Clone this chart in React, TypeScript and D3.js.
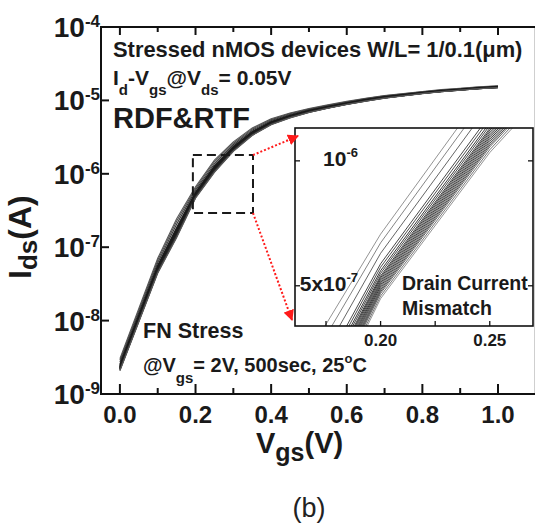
import React, { useRef, useEffect } from 'react';
import * as d3 from 'd3';

// Vgs sample points (V)
const vgs = [0, 0.05, 0.1, 0.15, 0.2, 0.25, 0.3, 0.35, 0.4, 0.45, 0.5, 0.55, 0.6, 0.65, 0.7, 0.75, 0.8, 0.85, 0.9, 0.95, 1.0];
// log10(Ids) of the median device
const baseLogId = [-8.64, -7.97, -7.3, -6.8, -6.29, -5.935, -5.66, -5.45, -5.31, -5.22, -5.15, -5.095, -5.045, -5.0, -4.96, -4.93, -4.9, -4.875, -4.855, -4.835, -4.82];
// device-to-device spread (decades per unit offset) at each Vgs
const spreadDec = [0.045, 0.05, 0.055, 0.07, 0.042, 0.045, 0.035, 0.028, 0.022, 0.018, 0.015, 0.013, 0.012, 0.011, 0.01, 0.009, 0.008, 0.008, 0.007, 0.007, 0.007];
// each stressed device's offset from the median
const deviceOffsets = [2.7, 2.2, 1.6, 1.0, 0.8, 0.6, 0.45, 0.3, 0.2, 0.1, 0.0, -0.1, -0.2, -0.3, -0.4, -0.5, -0.6, -0.7, -0.85, -1.0];
const deviceGray = ['#888', '#777', '#555', '#333', '#3a3a3a', '#222', '#333', '#2a2a2a', '#222', '#333', '#3a3a3a', '#222', '#333', '#2a2a2a', '#444', '#333', '#3a3a3a', '#555', '#666', '#888'];

const yTickExps = [-9, -8, -7, -6, -5, -4];
const xMajorTicks = [0, 0.2, 0.4, 0.6, 0.8, 1.0];
const xMajorLabels = ['0.0', '0.2', '0.4', '0.6', '0.8', '1.0'];
const xMinorTicks = [0.1, 0.3, 0.5, 0.7, 0.9];

const insetXTicks = [0.175, 0.2, 0.225, 0.25];
const insetXLabels = [{ v: 0.2, t: '0.20' }, { v: 0.25, t: '0.25' }];
const insetYTicks = [1e-6, 5e-7];
const insetYLabels = [{ v: 1e-6, pre: '10', exp: '-6' }, { v: 5e-7, pre: '5x10', exp: '-7' }];

// zoomed window marked on the main plot
const zoomBox = { x0: 0.193, x1: 0.352, yLo: 2.92e-7, yHi: 1.8e-6 };

const W = 535;
const H = 524;
const FONT = 'Liberation Sans, Arial, Helvetica, sans-serif';

const App = () => {
  const svgRef = useRef<SVGSVGElement>(null);

  useEffect(() => {
    const svg = d3.select(svgRef.current);
    svg.selectAll('*').remove();

    const x = d3.scaleLinear().domain([-0.05, 1.1]).range([101, 535.8]);
    const y = d3.scaleLog().domain([1e-9, 1e-4]).range([394, 27]);

    const curves = deviceOffsets.map((off) =>
      vgs.map((v, j) => ({ v, id: Math.pow(10, baseLogId[j] + off * spreadDec[j]) }))
    );

    const defs = svg.append('defs');
    defs.append('marker')
      .attr('id', 'redHead')
      .attr('viewBox', '0 0 10 10')
      .attr('refX', 9)
      .attr('refY', 5)
      .attr('markerWidth', 11)
      .attr('markerHeight', 11)
      .attr('markerUnits', 'userSpaceOnUse')
      .attr('orient', 'auto')
      .append('path')
      .attr('d', 'M0,0 L10,5 L0,10 z')
      .attr('fill', '#ff1a1a');

    // main curves (dense bundle reads almost black)
    const line = d3.line<{ v: number; id: number }>()
      .x(d => x(d.v))
      .y(d => y(d.id));

    svg.append('g')
      .selectAll('path')
      .data(curves)
      .join('path')
      .attr('d', d => line(d))
      .attr('fill', 'none')
      .attr('stroke', (d, i) => d3.color(deviceGray[i])!.darker(1.2).formatHex())
      .attr('stroke-width', 1.1);

    // frame
    svg.append('rect')
      .attr('x', x(-0.05))
      .attr('y', y(1e-4))
      .attr('width', x(1.1) - x(-0.05))
      .attr('height', y(1e-9) - y(1e-4))
      .attr('fill', 'none')
      .attr('stroke', '#111')
      .attr('stroke-width', 2);

    const ticks = svg.append('g').attr('stroke', '#111').attr('stroke-width', 2);
    xMajorTicks.forEach(t => {
      ticks.append('line').attr('x1', x(t)).attr('x2', x(t)).attr('y1', 394).attr('y2', 384);
      ticks.append('line').attr('x1', x(t)).attr('x2', x(t)).attr('y1', 27).attr('y2', 35);
    });
    xMinorTicks.forEach(t => {
      ticks.append('line').attr('x1', x(t)).attr('x2', x(t)).attr('y1', 394).attr('y2', 388);
      ticks.append('line').attr('x1', x(t)).attr('x2', x(t)).attr('y1', 27).attr('y2', 32);
    });
    yTickExps.forEach(e => {
      ticks.append('line').attr('x1', 101).attr('x2', 109).attr('y1', y(Math.pow(10, e))).attr('y2', y(Math.pow(10, e)));
    });

    // tick labels
    svg.append('g')
      .selectAll('text')
      .data(xMajorTicks)
      .join('text')
      .attr('x', d => x(d))
      .attr('y', 423)
      .attr('text-anchor', 'middle')
      .attr('font-family', FONT)
      .attr('font-weight', 'bold')
      .attr('font-size', 24)
      .attr('fill', '#1a1a1a')
      .text((d, i) => xMajorLabels[i]);

    yTickExps.forEach(e => {
      const t = svg.append('text')
        .attr('x', 100)
        .attr('y', y(Math.pow(10, e)) + 10)
        .attr('text-anchor', 'end')
        .attr('font-family', FONT)
        .attr('font-weight', 'bold')
        .attr('fill', '#1a1a1a');
      t.append('tspan').attr('font-size', 28).text('10');
      t.append('tspan').attr('font-size', 17).attr('dy', -10).text(String(e));
    });

    // axis titles
    const xt = svg.append('text')
      .attr('x', 256)
      .attr('y', 453)
      .attr('font-family', FONT)
      .attr('font-weight', 'bold')
      .attr('font-size', 29)
      .attr('fill', '#1a1a1a');
    xt.append('tspan').text('V');
    xt.append('tspan').attr('font-size', 25).attr('dy', 8).text('gs');
    xt.append('tspan').attr('dy', -8).text('(V)');

    const yt = svg.append('text')
      .attr('transform', 'translate(31,279) rotate(-90)')
      .attr('font-family', FONT)
      .attr('font-weight', 'bold')
      .attr('font-size', 32)
      .attr('fill', '#1a1a1a');
    yt.append('tspan').text('I');
    yt.append('tspan').attr('font-size', 26).attr('dy', 6).text('ds');
    yt.append('tspan').attr('dy', -6).text('(A)');

    svg.append('text')
      .attr('x', 309)
      .attr('y', 517)
      .attr('text-anchor', 'middle')
      .attr('font-family', FONT)
      .attr('font-size', 27)
      .attr('fill', '#222')
      .text('(b)');

    // annotations
    const note = (px: number, py: number, size: number) =>
      svg.append('text')
        .attr('x', px)
        .attr('y', py)
        .attr('font-family', FONT)
        .attr('font-weight', 'bold')
        .attr('font-size', size)
        .attr('fill', '#1a1a1a');

    note(113, 57, 21.9).text('Stressed nMOS devices W/L= 1/0.1(\u03bcm)');
    const l2 = note(113, 85, 21);
    l2.append('tspan').text('I');
    l2.append('tspan').attr('font-size', 15).attr('dy', 10).text('d');
    l2.append('tspan').attr('dy', -10).text('-V');
    l2.append('tspan').attr('font-size', 15).attr('dy', 10).text('gs');
    l2.append('tspan').attr('dy', -10).text('@V');
    l2.append('tspan').attr('font-size', 15).attr('dy', 10).text('ds');
    l2.append('tspan').attr('dy', -10).text('= 0.05V');
    note(113, 128, 29).text('RDF&RTF');

    note(143, 337.5, 21.5).text('FN Stress');
    const l4 = note(143, 372, 20);
    l4.append('tspan').text('@V');
    l4.append('tspan').attr('font-size', 15).attr('dy', 11).text('gs');
    l4.append('tspan').attr('dy', -11).text('= 2V, 500sec, 25');
    l4.append('tspan').attr('font-size', 13).attr('dy', -9).text('o');
    l4.append('tspan').attr('dy', 9).text('C');

    // dashed zoom window
    svg.append('rect')
      .attr('x', x(zoomBox.x0))
      .attr('y', y(zoomBox.yHi))
      .attr('width', x(zoomBox.x1) - x(zoomBox.x0))
      .attr('height', y(zoomBox.yLo) - y(zoomBox.yHi))
      .attr('fill', 'none')
      .attr('stroke', '#1a1a1a')
      .attr('stroke-width', 2)
      .attr('stroke-dasharray', '9,5');

    // inset
    const inset = { left: 295, top: 128, right: 533, bottom: 326 };
    const ix = d3.scaleLinear().domain([0.1608, 0.2698]).range([inset.left, inset.right]);
    const iy = d3.scaleLog().domain([4e-7, 1.2e-6]).range([inset.bottom, inset.top]);

    defs.append('clipPath').attr('id', 'insetClip')
      .append('rect')
      .attr('x', inset.left)
      .attr('y', inset.top)
      .attr('width', inset.right - inset.left)
      .attr('height', inset.bottom - inset.top);

    svg.append('rect')
      .attr('x', inset.left)
      .attr('y', inset.top)
      .attr('width', inset.right - inset.left)
      .attr('height', inset.bottom - inset.top)
      .attr('fill', '#fff');

    const iline = d3.line<{ v: number; id: number }>()
      .x(d => ix(d.v))
      .y(d => iy(d.id));

    svg.append('g')
      .attr('clip-path', 'url(#insetClip)')
      .selectAll('path')
      .data(curves)
      .join('path')
      .attr('d', d => iline(d))
      .attr('fill', 'none')
      .attr('stroke', (d, i) => deviceGray[i])
      .attr('stroke-width', 0.9);

    svg.append('rect')
      .attr('x', inset.left)
      .attr('y', inset.top)
      .attr('width', inset.right - inset.left)
      .attr('height', inset.bottom - inset.top)
      .attr('fill', 'none')
      .attr('stroke', '#111')
      .attr('stroke-width', 1.6);

    const iticks = svg.append('g').attr('stroke', '#111').attr('stroke-width', 1.3);
    insetXTicks.forEach(t => {
      iticks.append('line').attr('x1', ix(t)).attr('x2', ix(t)).attr('y1', inset.bottom).attr('y2', inset.bottom - 5);
    });
    insetYTicks.forEach(t => {
      iticks.append('line').attr('x1', inset.left).attr('x2', inset.left + 5).attr('y1', iy(t)).attr('y2', iy(t));
      iticks.append('line').attr('x1', inset.right).attr('x2', inset.right - 5).attr('y1', iy(t)).attr('y2', iy(t));
    });

    insetXLabels.forEach(d => {
      svg.append('text')
        .attr('x', ix(d.v))
        .attr('y', 346)
        .attr('text-anchor', 'middle')
        .attr('font-family', FONT)
        .attr('font-weight', 'bold')
        .attr('font-size', 17)
        .attr('fill', '#1a1a1a')
        .text(d.t);
    });
    insetYLabels.forEach(d => {
      const t = svg.append('text')
        .attr('x', 358)
        .attr('y', iy(d.v) + 5)
        .attr('text-anchor', 'end')
        .attr('font-family', FONT)
        .attr('font-weight', 'bold')
        .attr('fill', '#1a1a1a');
      t.append('tspan').attr('font-size', 21).text(d.pre);
      t.append('tspan').attr('font-size', 13).attr('dy', -9).text(d.exp);
    });

    const il1 = svg.append('text')
      .attr('font-family', FONT)
      .attr('font-weight', 'bold')
      .attr('font-size', 19.5)
      .attr('fill', '#1a1a1a');
    il1.append('tspan').attr('x', 402).attr('y', 290).text('Drain Current');
    il1.append('tspan').attr('x', 402).attr('y', 315).text('Mismatch');

    // red dotted arrows from the window to the inset
    const arrows = [
      { x1: x(zoomBox.x1), y1: y(zoomBox.yHi), x2: inset.left + 3, y2: inset.top + 8 },
      { x1: x(zoomBox.x1), y1: y(zoomBox.yLo), x2: inset.left - 3, y2: inset.bottom - 6 },
    ];
    svg.append('g')
      .selectAll('line')
      .data(arrows)
      .join('line')
      .attr('x1', d => d.x1)
      .attr('y1', d => d.y1)
      .attr('x2', d => d.x2)
      .attr('y2', d => d.y2)
      .attr('stroke', '#ff1a1a')
      .attr('stroke-width', 2)
      .attr('stroke-dasharray', '2,2')
      .attr('marker-end', 'url(#redHead)');
  }, []);

  return (
    <svg
      ref={svgRef}
      width={W}
      height={H}
      style={{ position: 'absolute', left: 0, top: 0, background: '#fff' }}
    />
  );
};

export default App;
